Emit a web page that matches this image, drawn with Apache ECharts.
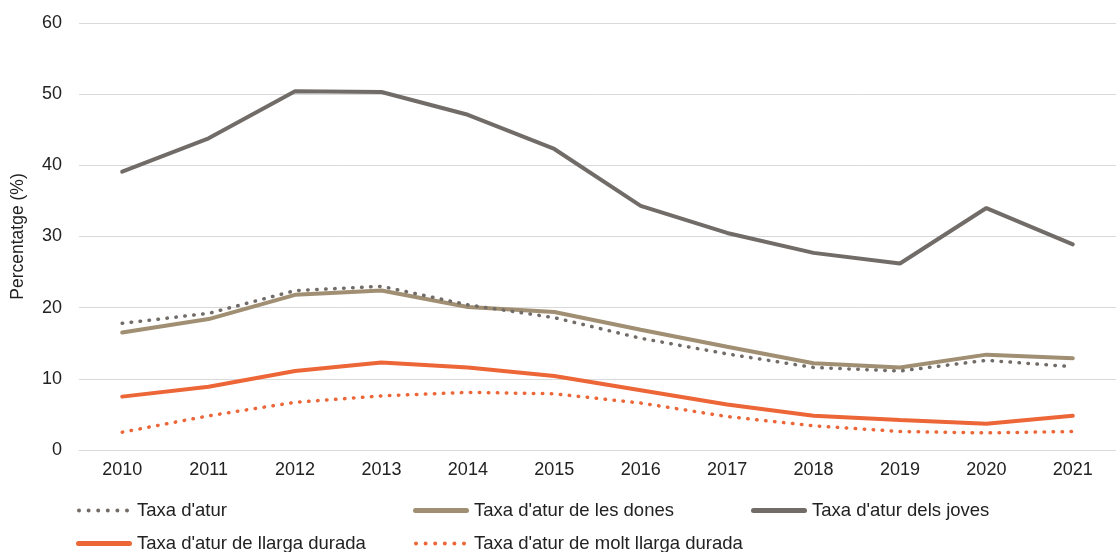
<!DOCTYPE html>
<html>
<head>
<meta charset="utf-8">
<script src="https://cdn.jsdelivr.net/npm/echarts@6/dist/echarts.min.js"></script>
<style>
  html, body { margin: 0; padding: 0; background: #fff; }
  #chart { width: 1116px; height: 552px; }
</style>
</head>
<body>
<div id="chart"></div>
<script>
const anys = ['2010', '2011', '2012', '2013', '2014', '2015', '2016', '2017', '2018', '2019', '2020', '2021']
const taxaAtur = [17.8, 19.2, 22.4, 23.0, 20.4, 18.6, 15.7, 13.5, 11.6, 11.1, 12.6, 11.7]
const taxaDones = [16.5, 18.4, 21.8, 22.4, 20.1, 19.4, 16.9, 14.5, 12.2, 11.6, 13.4, 12.9]
const taxaJoves = [39.1, 43.8, 50.4, 50.3, 47.1, 42.3, 34.3, 30.5, 27.7, 26.2, 34.0, 28.9]
const taxaLlarga = [7.5, 8.9, 11.1, 12.3, 11.6, 10.4, 8.4, 6.4, 4.8, 4.2, 3.7, 4.8]
const taxaMoltLlarga = [2.5, 4.8, 6.7, 7.6, 8.1, 7.9, 6.6, 4.7, 3.4, 2.6, 2.4, 2.6]
const yTicks = [0, 10, 20, 30, 40, 50, 60]

const gris = '#716c68'
const beix = '#a08f72'
const taronja = '#ec6638'
const font = '"Liberation Sans", Arial, sans-serif'

// icones de la llegenda: linia arrodonida i sis punts
const iconLinia = 'path://M2.5,0 H53.5 A2.5,2.5 0 0 1 53.5,5 H2.5 A2.5,2.5 0 0 1 2.5,0 Z'
let iconPunts = 'path://'
for (let i = 0; i < 6; i++) {
  const cx = 2 + i * 9.6
  iconPunts += 'M' + (cx - 2) + ',2 A2,2 0 1 0 ' + (cx + 2) + ',2 A2,2 0 1 0 ' + (cx - 2) + ',2 Z '
}

function serie(name, data, color, dotted) {
  return {
    name: name,
    type: 'line',
    data: data,
    symbol: 'none',
    color: color,
    lineStyle: {
      color: color,
      width: dotted ? 3.5 : 4,
      type: dotted ? [0.5, 8.5] : 'solid',
      cap: 'round'
    },
    emphasis: { disabled: true }
  }
}

function llegenda(name, left, top, dotted) {
  return {
    data: [{ name: name, icon: dotted ? iconPunts : iconLinia }],
    left: dotted ? left + 1 : left,
    top: top,
    padding: 0,
    itemWidth: dotted ? 52 : 56,
    itemHeight: dotted ? 4 : 5,
    itemGap: 0,
    textStyle: {
      fontFamily: font, fontSize: 18.5, color: '#222',
      padding: dotted ? [0, 0, 0, 3] : 0
    }
  }
}

const chart = echarts.init(document.getElementById('chart'))

const option = {
  animation: false,
  grid: { left: 79, top: 23, width: 1047, bottom: 102 },
  legend: [
    llegenda("Taxa d'atur", 76, 501, true),
    llegenda("Taxa d'atur de les dones", 413, 501, false),
    llegenda("Taxa d'atur dels joves", 751, 501, false),
    llegenda("Taxa d'atur de llarga durada", 76, 534, false),
    llegenda("Taxa d'atur de molt llarga durada", 413, 534, true)
  ],
  xAxis: {
    type: 'category',
    data: anys,
    boundaryGap: true,
    axisLine: { lineStyle: { color: '#d9d9d9', width: 1 } },
    axisTick: { show: false },
    axisLabel: { fontFamily: font, fontSize: 18, color: '#222', margin: 11 }
  },
  yAxis: {
    type: 'value',
    min: yTicks[0],
    max: yTicks[yTicks.length - 1],
    interval: 10,
    name: 'Percentatge (%)',
    nameLocation: 'middle',
    nameGap: 52,
    nameTextStyle: { fontFamily: font, fontSize: 17.5, color: '#222' },
    axisLabel: { fontFamily: font, fontSize: 18, color: '#222', margin: 17 },
    splitLine: { lineStyle: { color: '#d9d9d9', width: 1 } }
  },
  series: [
    serie("Taxa d'atur de les dones", taxaDones, beix, false),
    serie("Taxa d'atur dels joves", taxaJoves, gris, false),
    serie("Taxa d'atur", taxaAtur, gris, true),
    serie("Taxa d'atur de llarga durada", taxaLlarga, taronja, false),
    serie("Taxa d'atur de molt llarga durada", taxaMoltLlarga, taronja, true)
  ]
}

chart.setOption(option)
</script>
</body>
</html>
